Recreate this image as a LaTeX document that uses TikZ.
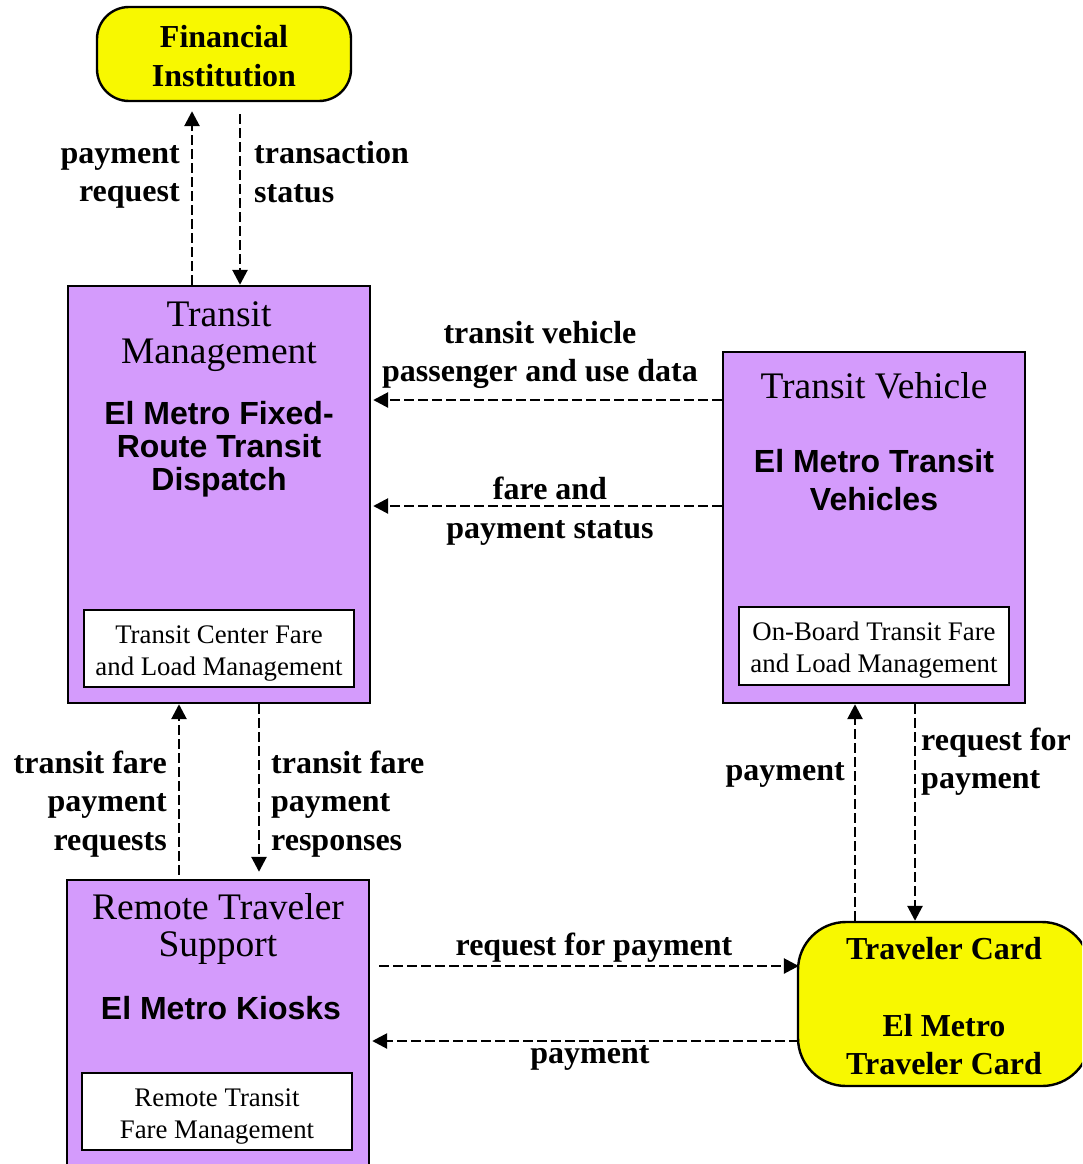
\documentclass[tikz,border=0pt]{standalone}
\usepackage{fontspec}
\setmainfont{Liberation Serif}
\setsansfont{Liberation Sans}
\usetikzlibrary{arrows.meta}
\definecolor{boxpurple}{RGB}{212,155,252}
\definecolor{cardyellow}{RGB}{248,248,0}
\tikzset{
 sysbox/.style={draw, line width=2.4pt, fill=boxpurple, rectangle, inner sep=0pt},
 subbox/.style={draw, line width=2.2pt, fill=white, rectangle, inner sep=0pt},
 termbox/.style={draw, line width=2.4pt, fill=cardyellow, rectangle, rounded corners=#1, inner sep=0pt},
 flow/.style={line width=2.7pt, dash pattern=on 9.5pt off 4.5pt, -{Triangle[length=15pt,width=15pt]}},
 lbl/.style={font=\fontsize{32}{38.5}\selectfont\bfseries, inner sep=0pt},
 ttl/.style={font=\fontsize{37.5}{37}\selectfont, align=center, inner sep=0pt},
 elm/.style={font=\fontsize{32}{33}\selectfont\sffamily\bfseries, align=center, inner sep=0pt},
 subtxt/.style={font=\fontsize{26.8}{32}\selectfont, align=center, inner sep=0pt},
}
\begin{document}
\begin{tikzpicture}[x=1pt,y=-1pt]
\clip (0,0) rectangle (1082,1164);
\fill[white] (0,0) rectangle (1082,1164);

% boxes
\node[termbox=32pt, minimum width=254pt, minimum height=94pt] (fi) at (224,54) {};
\node[lbl, align=center] (fit) at (224,56) {Financial\\Institution};

\node[sysbox, minimum width=302pt, minimum height=417pt] (tm) at (219,494.5) {};
\node[ttl] (tmt) at (219,337) {Transit\\Management};
\node[elm] (tme) at (219,449) {El Metro Fixed-\\Route Transit\\Dispatch};
\node[subbox, minimum width=270pt, minimum height=77pt] (tms) at (219,648.5) {};
\node[subtxt] (tmst) at (219,654) {Transit Center Fare\\and Load Management};

\node[sysbox, minimum width=302pt, minimum height=351pt] (tv) at (874,527.5) {};
\node[ttl] (tvt) at (874,386) {Transit Vehicle};
\node[elm, font=\fontsize{32}{38}\selectfont\sffamily\bfseries] (tve) at (874,480) {El Metro Transit\\Vehicles};
\node[subbox, minimum width=270pt, minimum height=78pt] (tvs) at (874,646) {};
\node[subtxt] (tvst) at (874,650) {On-Board Transit Fare\\and Load Management};

\node[sysbox, minimum width=302pt, minimum height=300pt] (rts) at (218,1030) {};
\node[ttl] (rtst) at (218,929) {Remote Traveler\\Support};
\node[elm] (rtse) at (221,1008) {El Metro Kiosks};
\node[subbox, minimum width=270pt, minimum height=77pt] (rtss) at (217,1111.5) {};
\node[subtxt] (rtsst) at (217,1117) {Remote Transit\\Fare Management};

\node[termbox=48pt, minimum width=292pt, minimum height=164pt] (tc) at (944,1004) {};
\node[lbl, align=center] (tct) at (944,1006.5) {Traveler Card\\[38pt]El Metro\\Traveler Card};

% x / y positions of flows
\coordinate (xa) at (192,0);
\coordinate (xb) at (240,0);
\coordinate (xc) at (179,0);
\coordinate (xd) at (259,0);
\coordinate (xe) at (855,0);
\coordinate (xf) at (915,0);
\coordinate (ya) at (0,400);
\coordinate (yb) at (0,506);
\coordinate (yc) at (0,966);
\coordinate (yd) at (0,1041);

% flows
\draw[flow, shorten >=9pt] (tm.north -| xa) -- (fi.south -| xa);
\draw[flow, shorten <=12pt] (fi.south -| xb) -- (tm.north -| xb);
\draw[flow, shorten >=2pt] (tv.west |- ya) -- (tm.east |- ya);
\draw[flow, shorten >=2pt] (tv.west |- yb) -- (tm.east |- yb);
\draw[flow, shorten <=4pt] (rts.north -| xc) -- (tm.south -| xc);
\draw[flow, shorten >=7pt] (tm.south -| xd) -- (rts.north -| xd);
\draw[flow] (tc.north -| xe) -- (tv.south -| xe);
\draw[flow] (tv.south -| xf) -- (tc.north -| xf);
\draw[flow, shorten <=9pt, shorten >=-2pt] (rts.east |- yc) -- (tc.west |- yc);
\draw[flow, shorten <=-2pt, shorten >=2pt] (tc.west |- yd) -- (rts.east |- yd);

% labels
\node[lbl, align=right, anchor=east] (la) at (180,177) {payment\\request};
\node[lbl, align=left, anchor=west] (lb) at (254,172) {transaction\\status};
\node[lbl, align=center] (lc) at (540,355) {transit vehicle\\passenger and use data};
\node[lbl, align=center] (ld) at (550,511) {fare and\\payment status};
\node[lbl, align=right, anchor=east] (le) at (167,804) {transit fare\\payment\\requests};
\node[lbl, align=left, anchor=west] (lf) at (271,804) {transit fare\\payment\\responses};
\node[lbl, anchor=east] (lg) at (845,775) {payment};
\node[lbl, align=left, anchor=west] (lh) at (921,761.5) {request for\\payment};
\node[lbl] (li) at (594,948) {request for payment};
\node[lbl] (lj) at (590,1058) {payment};
\end{tikzpicture}
\end{document}
